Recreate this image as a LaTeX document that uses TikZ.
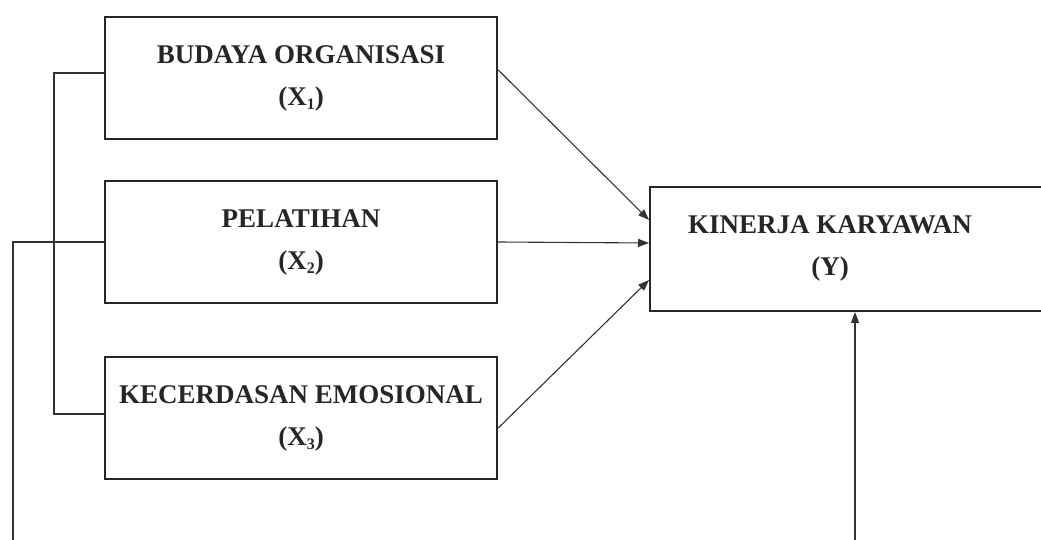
\documentclass[tikz,border=0pt]{standalone}
\usepackage{fontspec}
\setmainfont{Liberation Serif}
\usetikzlibrary{arrows.meta}
\newcommand\mysub[1]{\raisebox{-0.35ex}{\fontsize{16}{16}\selectfont #1}}
\begin{document}
\begin{tikzpicture}[x=1pt,y=-1pt,
  box/.style={draw=black!85, line width=2.4pt, rectangle, inner sep=0pt,
    minimum width=392pt, minimum height=122pt, align=center,
    font=\fontsize{27}{42}\selectfont\bfseries, text=black!85},
  lbl/.style={align=center, inner sep=0pt, font=\fontsize{27}{42}\selectfont\bfseries, text=black!85},
  conn/.style={draw=black!80, line width=1.1pt},
  arr/.style={conn, -{Triangle[length=11pt,width=8pt]}}]
\useasboundingbox (0,0) rectangle (1041,540);
\fill[white] (0,0) rectangle (1041,540);
\node[box] (x1) at (301,78) {BUDAYA ORGANISASI\\(X\mysub{1})};
\node[box] (x2) at (301,242) {PELATIHAN\\(X\mysub{2})};
\node[box] (x3) at (301,418) {KECERDASAN EMOSIONAL\\(X\mysub{3})};
\node[box, minimum width=420pt, minimum height=123.5pt, anchor=west] (y) at (649,249) {};
\node[lbl] (ytxt) at (830,248) {KINERJA KARYAWAN\\(Y)};
% arrows into Y
\draw[arr] ([yshift=8pt]x1.east) -- ([yshift=29pt]y.west);
\draw[arr] (x2.east) -- ([yshift=6pt]y.west);
\draw[arr] ([yshift=-10pt]x3.east) -- ([yshift=-31pt]y.west);
% left bracket between X1 and X3
\coordinate (b1) at (54,73);
\coordinate (b2) at (54,414);
\draw[conn] ([yshift=5pt]x1.west) -- (b1) -- (b2) -- ([yshift=4pt]x3.west);
% X2 to Y along the bottom
\coordinate (c1) at (13,242);
\coordinate (c2) at (13,545);
\coordinate (c3) at (855,545);
\draw[conn] (x2.west) -- (c1) -- (c2) -- (c3);
\draw[arr] (c3) -- (c3 |- y.south);
\end{tikzpicture}
\end{document}
